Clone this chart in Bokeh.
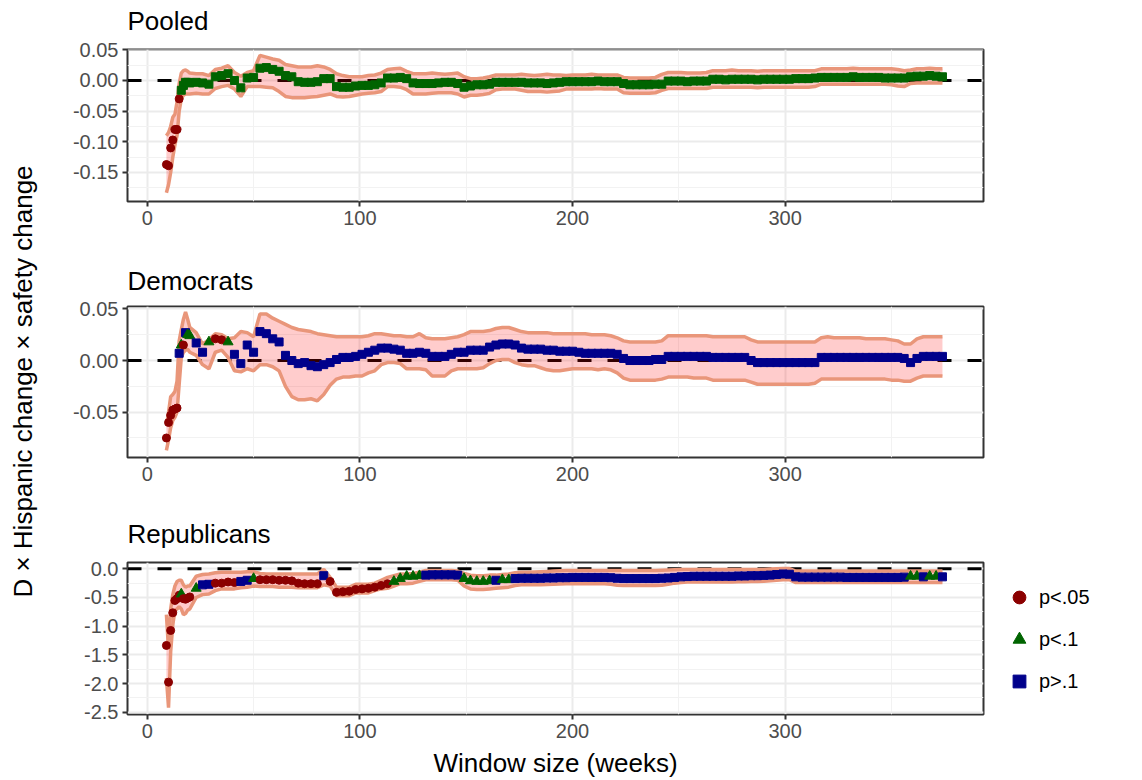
import math
from bokeh.plotting import figure
from bokeh.models import (Range1d, FixedTicker, PrintfTickFormatter, Span,
                          Legend, LegendItem, ColumnDataSource)
from bokeh.layouts import column, row
from bokeh.core.properties import value
from bokeh.embed import file_html
from bokeh.resources import INLINE

# Window sizes (weeks) at which the rolling estimates are reported
weeks = list(range(9, 21)) + list(range(23, 375, 3))

# ---- Pooled -----------------------------------------------------------
pooled_est = [
    -0.137, -0.139, -0.110, -0.097, -0.080, -0.080, -0.030, -0.016, -0.008, -0.003, -0.003, -0.004,
    -0.003, -0.004, -0.006, 0.006, 0.008, 0.011, 0.000, -0.012, 0.004, 0.005,
    0.020, 0.021, 0.018, 0.015, 0.008, 0.006, -0.002, -0.003, -0.003, -0.002,
    0.003, 0.003, -0.010, -0.011, -0.011, -0.009, -0.008, -0.008, -0.007, -0.004,
    0.004, 0.004, 0.005, 0.003, -0.004, -0.005, -0.005, -0.005, -0.004, -0.003,
    -0.003, -0.005, -0.011, -0.009, -0.007, -0.007, -0.006, -0.003, -0.003, -0.003,
    -0.003, -0.003, -0.004, -0.004, -0.004, -0.005, -0.004, -0.003, -0.002, -0.002,
    -0.002, -0.002, -0.002, -0.001, -0.002, -0.002, -0.002, -0.005, -0.007, -0.007,
    -0.007, -0.007, -0.006, -0.006, -0.001, -0.001, -0.001, -0.002, -0.001, -0.001,
    -0.001, 0.002, 0.002, 0.001, 0.002, 0.002, 0.002, 0.002, 0.001, 0.002,
    0.002, 0.002, 0.002, 0.002, 0.003, 0.003, 0.003, 0.004, 0.005, 0.005,
    0.005, 0.005, 0.005, 0.006, 0.005, 0.005, 0.005, 0.005, 0.004, 0.004,
    0.004, 0.004, 0.006, 0.007, 0.007, 0.008, 0.007, 0.006,
]
pooled_hi = [
    -0.090, -0.085, -0.075, -0.060, -0.055, -0.035, -0.005, 0.012, 0.016, 0.017, 0.015, 0.012,
    0.011, 0.011, 0.008, 0.018, 0.020, 0.024, 0.013, 0.007, 0.013, 0.016,
    0.041, 0.038, 0.035, 0.033, 0.026, 0.024, 0.022, 0.022, 0.022, 0.024,
    0.022, 0.018, 0.011, 0.008, 0.006, 0.006, 0.006, 0.008, 0.009, 0.012,
    0.018, 0.019, 0.020, 0.015, 0.011, 0.011, 0.011, 0.012, 0.011, 0.010,
    0.011, 0.012, 0.006, 0.003, 0.003, 0.004, 0.006, 0.009, 0.009, 0.009,
    0.009, 0.010, 0.009, 0.008, 0.009, 0.010, 0.009, 0.009, 0.008, 0.009,
    0.009, 0.009, 0.010, 0.009, 0.009, 0.009, 0.009, 0.005, 0.004, 0.004,
    0.004, 0.004, 0.005, 0.010, 0.013, 0.013, 0.013, 0.012, 0.012, 0.012,
    0.013, 0.016, 0.016, 0.016, 0.017, 0.016, 0.016, 0.016, 0.015, 0.016,
    0.016, 0.016, 0.016, 0.016, 0.016, 0.016, 0.016, 0.016, 0.019, 0.019,
    0.019, 0.019, 0.019, 0.020, 0.019, 0.019, 0.019, 0.019, 0.019, 0.019,
    0.018, 0.016, 0.017, 0.019, 0.019, 0.020, 0.019, 0.019,
]
pooled_lo = [
    -0.183, -0.170, -0.150, -0.125, -0.105, -0.090, -0.050, -0.030, -0.024, -0.022, -0.022, -0.022,
    -0.021, -0.022, -0.022, -0.013, -0.010, -0.008, -0.014, -0.026, -0.010, -0.010,
    -0.010, -0.011, -0.012, -0.018, -0.026, -0.028, -0.028, -0.028, -0.027, -0.026,
    -0.024, -0.022, -0.026, -0.027, -0.026, -0.024, -0.022, -0.021, -0.020, -0.018,
    -0.010, -0.010, -0.011, -0.015, -0.022, -0.022, -0.022, -0.021, -0.020, -0.020,
    -0.020, -0.022, -0.027, -0.024, -0.024, -0.023, -0.021, -0.015, -0.014, -0.014,
    -0.014, -0.016, -0.018, -0.018, -0.018, -0.019, -0.018, -0.017, -0.014, -0.014,
    -0.014, -0.014, -0.014, -0.013, -0.014, -0.014, -0.014, -0.020, -0.021, -0.021,
    -0.021, -0.021, -0.020, -0.016, -0.013, -0.013, -0.013, -0.013, -0.013, -0.013,
    -0.013, -0.011, -0.011, -0.011, -0.011, -0.011, -0.011, -0.011, -0.012, -0.011,
    -0.011, -0.011, -0.011, -0.011, -0.011, -0.011, -0.011, -0.010, -0.006, -0.006,
    -0.006, -0.006, -0.006, -0.006, -0.006, -0.006, -0.006, -0.006, -0.006, -0.007,
    -0.009, -0.010, -0.005, -0.004, -0.004, -0.004, -0.004, -0.004,
]
pooled_sig = ("sssssssnnnnn" + "nnnnnnnnnn" * 11 + "nnnnnnnn")

# ---- Democrats --------------------------------------------------------
dem_est = [
    -0.075, -0.060, -0.053, -0.048, -0.047, -0.046, 0.007, 0.015, 0.015, 0.027, 0.025, 0.024,
    0.017, 0.008, 0.018, 0.021, 0.020, 0.018, 0.006, -0.003, 0.015, 0.008,
    0.028, 0.026, 0.021, 0.018, 0.005, 0.000, -0.003, -0.002, -0.005, -0.006,
    -0.004, -0.002, 0.001, 0.003, 0.003, 0.004, 0.006, 0.008, 0.010, 0.012,
    0.012, 0.011, 0.010, 0.007, 0.007, 0.008, 0.007, 0.004, 0.004, 0.004,
    0.006, 0.008, 0.008, 0.010, 0.010, 0.010, 0.013, 0.015, 0.016, 0.016,
    0.015, 0.012, 0.011, 0.011, 0.011, 0.010, 0.010, 0.009, 0.009, 0.009,
    0.008, 0.007, 0.007, 0.007, 0.007, 0.007, 0.006, 0.002, 0.000, 0.000,
    0.000, 0.000, 0.001, 0.001, 0.004, 0.004, 0.004, 0.004, 0.004, 0.004,
    0.004, 0.003, 0.003, 0.003, 0.003, 0.003, 0.003, 0.000, -0.002, -0.002,
    -0.002, -0.002, -0.002, -0.002, -0.002, -0.002, -0.002, -0.002, 0.003, 0.003,
    0.003, 0.003, 0.003, 0.003, 0.003, 0.003, 0.003, 0.003, 0.003, 0.003,
    0.003, 0.002, -0.002, 0.002, 0.004, 0.004, 0.004, 0.004,
]
dem_hi = [
    -0.063, -0.050, -0.035, -0.033, -0.030, -0.020, 0.019, 0.030, 0.040, 0.047, 0.040, 0.032,
    0.027, 0.016, 0.020, 0.026, 0.025, 0.021, 0.022, 0.028, 0.027, 0.023,
    0.045, 0.045, 0.041, 0.038, 0.035, 0.032, 0.030, 0.029, 0.028, 0.026,
    0.025, 0.024, 0.023, 0.023, 0.023, 0.023, 0.023, 0.024, 0.026, 0.026,
    0.025, 0.024, 0.024, 0.023, 0.023, 0.026, 0.022, 0.021, 0.021, 0.021,
    0.022, 0.023, 0.025, 0.028, 0.028, 0.028, 0.029, 0.031, 0.032, 0.032,
    0.030, 0.028, 0.027, 0.027, 0.027, 0.027, 0.026, 0.026, 0.026, 0.026,
    0.026, 0.026, 0.025, 0.025, 0.025, 0.024, 0.022, 0.019, 0.018, 0.018,
    0.018, 0.018, 0.018, 0.019, 0.024, 0.024, 0.024, 0.024, 0.024, 0.024,
    0.024, 0.023, 0.023, 0.023, 0.023, 0.023, 0.023, 0.020, 0.018, 0.018,
    0.018, 0.018, 0.018, 0.018, 0.018, 0.018, 0.018, 0.018, 0.022, 0.023,
    0.022, 0.022, 0.022, 0.022, 0.022, 0.021, 0.021, 0.021, 0.021, 0.020,
    0.019, 0.016, 0.016, 0.021, 0.023, 0.023, 0.023, 0.023,
]
dem_lo = [
    -0.087, -0.077, -0.065, -0.058, -0.055, -0.050, -0.023, 0.003, 0.008, 0.010, 0.011, 0.008,
    0.005, -0.004, -0.008, 0.008, 0.010, 0.003, -0.010, -0.011, -0.008, -0.010,
    -0.004, -0.004, -0.006, -0.010, -0.025, -0.035, -0.038, -0.038, -0.037, -0.039,
    -0.033, -0.024, -0.018, -0.016, -0.016, -0.015, -0.015, -0.012, -0.010, -0.004,
    -0.002, -0.002, -0.003, -0.008, -0.008, -0.008, -0.009, -0.015, -0.015, -0.015,
    -0.010, -0.008, -0.008, -0.008, -0.008, -0.007, -0.003, 0.000, 0.001, 0.001,
    -0.002, -0.004, -0.005, -0.005, -0.007, -0.009, -0.010, -0.010, -0.009, -0.008,
    -0.008, -0.008, -0.008, -0.009, -0.008, -0.009, -0.012, -0.017, -0.019, -0.019,
    -0.019, -0.019, -0.019, -0.018, -0.016, -0.016, -0.016, -0.016, -0.017, -0.017,
    -0.017, -0.019, -0.019, -0.019, -0.019, -0.019, -0.019, -0.021, -0.023, -0.023,
    -0.023, -0.023, -0.023, -0.023, -0.023, -0.023, -0.023, -0.022, -0.018, -0.018,
    -0.018, -0.018, -0.018, -0.018, -0.018, -0.018, -0.018, -0.018, -0.018, -0.019,
    -0.019, -0.020, -0.020, -0.017, -0.015, -0.015, -0.015, -0.015,
]
dem_sig = ("ssssssnmsnmm" + "nnmssmnnnn" + "nnnnnnnnnn" * 10 + "nnnnnnnn")

# ---- Republicans ------------------------------------------------------
rep_est = [
    -1.336, -1.976, -1.075, -0.767, -0.552, -0.520, -0.460, -0.440, -0.520, -0.530, -0.510, -0.490,
    -0.340, -0.280, -0.270, -0.250, -0.250, -0.230, -0.240, -0.220, -0.200, -0.170,
    -0.190, -0.190, -0.190, -0.200, -0.200, -0.210, -0.250, -0.260, -0.260, -0.260,
    -0.120, -0.220, -0.410, -0.400, -0.390, -0.360, -0.350, -0.340, -0.320, -0.290,
    -0.260, -0.220, -0.170, -0.130, -0.130, -0.120, -0.110, -0.105, -0.105, -0.105,
    -0.105, -0.110, -0.170, -0.210, -0.220, -0.220, -0.210, -0.200, -0.190, -0.190,
    -0.170, -0.165, -0.165, -0.165, -0.165, -0.160, -0.160, -0.155, -0.155, -0.150,
    -0.150, -0.150, -0.150, -0.150, -0.150, -0.155, -0.165, -0.170, -0.170, -0.170,
    -0.170, -0.170, -0.170, -0.165, -0.160, -0.150, -0.140, -0.135, -0.130, -0.130,
    -0.130, -0.130, -0.130, -0.130, -0.130, -0.125, -0.125, -0.120, -0.120, -0.115,
    -0.110, -0.100, -0.090, -0.095, -0.140, -0.145, -0.145, -0.145, -0.145, -0.145,
    -0.145, -0.145, -0.150, -0.150, -0.150, -0.150, -0.150, -0.150, -0.150, -0.150,
    -0.150, -0.145, -0.130, -0.130, -0.140, -0.130, -0.130, -0.140,
]
rep_hi = [
    -0.800, -1.400, -0.700, -0.450, -0.300, -0.220, -0.200, -0.200, -0.280, -0.320, -0.300, -0.300,
    -0.130, -0.100, -0.090, -0.070, -0.060, -0.060, -0.060, -0.060, -0.050, -0.050,
    -0.080, -0.090, -0.090, -0.090, -0.090, -0.090, -0.090, -0.090, -0.090, -0.090,
    -0.010, -0.150, -0.320, -0.320, -0.320, -0.270, -0.270, -0.270, -0.250, -0.200,
    -0.150, -0.120, -0.090, -0.090, -0.080, -0.060, -0.030, -0.030, -0.030, -0.030,
    -0.030, -0.040, -0.080, -0.110, -0.120, -0.120, -0.110, -0.110, -0.100, -0.090,
    -0.070, -0.060, -0.060, -0.055, -0.050, -0.045, -0.040, -0.035, -0.030, -0.030,
    -0.030, -0.030, -0.030, -0.030, -0.030, -0.030, -0.030, -0.030, -0.030, -0.030,
    -0.030, -0.030, -0.030, -0.025, -0.020, -0.015, -0.010, -0.010, -0.010, -0.010,
    -0.010, -0.010, -0.010, -0.010, -0.010, -0.010, -0.010, -0.010, -0.010, -0.010,
    -0.005, 0.000, 0.005, 0.005, -0.040, -0.040, -0.040, -0.040, -0.040, -0.040,
    -0.040, -0.040, -0.040, -0.040, -0.040, -0.040, -0.040, -0.040, -0.040, -0.040,
    -0.040, -0.040, -0.040, -0.040, -0.040, -0.040, -0.040, -0.040,
]
rep_lo = [
    -1.900, -2.420, -1.450, -0.980, -0.720, -0.700, -0.660, -0.700, -0.800, -0.780, -0.720, -0.700,
    -0.500, -0.450, -0.440, -0.380, -0.350, -0.350, -0.350, -0.330, -0.320, -0.300,
    -0.310, -0.310, -0.310, -0.320, -0.320, -0.320, -0.330, -0.330, -0.330, -0.330,
    -0.280, -0.300, -0.470, -0.470, -0.470, -0.420, -0.420, -0.420, -0.380, -0.350,
    -0.340, -0.300, -0.260, -0.260, -0.250, -0.220, -0.190, -0.190, -0.190, -0.190,
    -0.190, -0.200, -0.300, -0.350, -0.360, -0.360, -0.350, -0.340, -0.330, -0.320,
    -0.290, -0.280, -0.280, -0.280, -0.280, -0.275, -0.270, -0.265, -0.260, -0.260,
    -0.260, -0.260, -0.260, -0.260, -0.260, -0.270, -0.285, -0.290, -0.290, -0.290,
    -0.290, -0.290, -0.290, -0.285, -0.270, -0.250, -0.240, -0.230, -0.230, -0.230,
    -0.230, -0.230, -0.230, -0.230, -0.230, -0.225, -0.225, -0.220, -0.220, -0.215,
    -0.210, -0.200, -0.190, -0.190, -0.240, -0.240, -0.240, -0.240, -0.240, -0.240,
    -0.240, -0.240, -0.240, -0.240, -0.240, -0.240, -0.240, -0.240, -0.240, -0.240,
    -0.240, -0.240, -0.240, -0.240, -0.240, -0.240, -0.240, -0.240,
]
rep_sig = ("sssssssmssss" + "mnnssssnnm" + "ssssssssss" + "nsssssssss"
           + "smmmmmnnnn" + "nnmmmmmnmm" + "nnnnnnnnnn" * 6 + "nnmmnmmn")

for arr in (pooled_est, pooled_hi, pooled_lo, pooled_sig, dem_est, dem_hi, dem_lo,
            dem_sig, rep_est, rep_hi, rep_lo, rep_sig):
    assert len(arr) == len(weeks), len(arr)

panel_titles = ["Pooled", "Democrats", "Republicans"]
sig_labels = ["p<.05", "p<.1", "p>.1"]
y_title = "D \u00d7 Hispanic change \u00d7 safety change"
x_title = "Window size (weeks)"

FONT = "Liberation Sans"
RED, GREEN, BLUE = "#8B0000", "#006400", "#00008B"
STYLE = {"s": ("circle", RED, 8), "m": ("triangle", GREEN, 10), "n": ("square", BLUE, 8)}
POOLED_STYLE = {"s": ("circle", RED, 8), "n": ("square", GREEN, 8)}

FRAME_W = 856
LABEL_W = 40            # strip holding the shared y title
LEFT = 127 - LABEL_W    # panel border left of each plotting frame
RIGHT = 12
PANEL_W = LEFT + FRAME_W + RIGHT
LEGEND_W = 1142 - LABEL_W - PANEL_W


def blank(w, h, left=0, right=0):
    f = figure(frame_width=w, frame_height=h, x_range=Range1d(0, w),
               y_range=Range1d(0, h), min_border=0,
               min_border_left=left, min_border_right=right,
               output_backend="svg", toolbar_location=None,
               border_fill_color="white", background_fill_color="white")
    f.axis.visible = False
    f.grid.visible = False
    f.outline_line_color = None
    return f


def title_strip(text, yc):
    # same horizontal borders as the panels, so the text starts at the frame edge
    t = blank(FRAME_W, 40, left=LEFT, right=RIGHT)
    t.text(x=[0], y=[yc], text=[text], text_align="left", text_baseline="middle",
           text_font=value(FONT), text_font_size="26px", text_color="black")
    return t


def make_panel(est, lo, hi, sig, style, y_range, y_ticks, y_minor, fmt,
               frame_h, border_bottom):
    p = figure(frame_width=FRAME_W, frame_height=frame_h,
               x_range=Range1d(-9.3, 393.3), y_range=Range1d(*y_range),
               output_backend="svg", toolbar_location=None,
               min_border_left=LEFT, min_border_right=RIGHT,
               min_border_top=9, min_border_bottom=border_bottom,
               background_fill_color="white", border_fill_color="white")

    p.outline_line_color = "#333333"
    p.outline_line_width = 2

    xt = FixedTicker(ticks=[0, 100, 200, 300], minor_ticks=[50, 150, 250, 350])
    yt = FixedTicker(ticks=y_ticks, minor_ticks=y_minor)
    p.xaxis.ticker = xt
    p.xgrid.ticker = xt
    p.yaxis.ticker = yt
    p.ygrid.ticker = yt
    p.yaxis.formatter = PrintfTickFormatter(format=fmt)

    for g in (p.xgrid, p.ygrid):
        g.grid_line_color = "#EBEBEB"
        g.grid_line_width = 2
        g.minor_grid_line_color = "#F2F2F2"
        g.minor_grid_line_width = 1

    for ax in (p.xaxis, p.yaxis):
        ax.axis_line_color = None
        ax.major_tick_line_color = "#333333"
        ax.major_tick_line_width = 2
        ax.major_tick_out = 5
        ax.major_tick_in = 0
        ax.minor_tick_line_color = None
        ax.major_label_text_font = FONT
        ax.major_label_text_font_size = "20px"
        ax.major_label_text_color = "#4D4D4D"
        ax.major_label_standoff = 4
        ax.axis_label_text_font = FONT
        ax.axis_label_text_font_size = "26px"
        ax.axis_label_text_font_style = "normal"
        ax.axis_label_text_color = "black"

    # reference line at zero, beneath the confidence band
    p.add_layout(Span(location=0, dimension="width", line_color="black",
                      line_width=3, line_dash="14 16", level="underlay"))

    src = ColumnDataSource(dict(
        w=weeks, est=est, lo=lo, hi=hi,
        marker=[style[c][0] for c in sig],
        color=[style[c][1] for c in sig],
        size=[style[c][2] for c in sig],
    ))
    p.varea(x="w", y1="lo", y2="hi", source=src, fill_color="red", fill_alpha=0.2)
    p.line(x="w", y="lo", source=src, line_color="#E9967A", line_width=3.5)
    p.line(x="w", y="hi", source=src, line_color="#E9967A", line_width=3.5)
    p.scatter(x="w", y="est", source=src, marker="marker", color="color", size="size")
    return p


p1 = make_panel(pooled_est, pooled_lo, pooled_hi, pooled_sig, POOLED_STYLE,
                (-0.1973, 0.0505), [-0.15, -0.10, -0.05, 0.0, 0.05],
                [-0.175, -0.125, -0.075, -0.025, 0.025], "%.2f", 152, 56)
p2 = make_panel(dem_est, dem_lo, dem_hi, dem_sig, STYLE,
                (-0.0939, 0.0523), [-0.05, 0.0, 0.05], [-0.075, -0.025, 0.025],
                "%.2f", 151, 56)
p3 = make_panel(rep_est, rep_lo, rep_hi, rep_sig, STYLE,
                (-2.540, 0.110), [-2.5, -2.0, -1.5, -1.0, -0.5, 0.0],
                [-2.25, -1.75, -1.25, -0.75, -0.25], "%.1f", 152, 66)

p3.xaxis.axis_label = x_title
p3.xaxis.axis_label_standoff = 7

t1 = title_strip(panel_titles[0], 20)
t2 = title_strip(panel_titles[1], 17)
t3 = title_strip(panel_titles[2], 20)

# shared y-axis title in its own strip spanning all three panels
ylab = blank(LABEL_W, 780)
ylab.text(x=[22], y=[399], text=[y_title], angle=math.pi / 2,
          text_align="center", text_baseline="middle",
          text_font=value(FONT), text_font_size="26px", text_color="black")

# legend for the significance classes, beside the bottom panel; the key
# renderers hold one point outside the visible range so only the keys show
leg_fig = blank(LEGEND_W, 780)
keys = []
for lab, mk, col in zip(sig_labels, ["circle", "triangle", "square"], [RED, GREEN, BLUE]):
    r = leg_fig.scatter(x=[-1000], y=[-1000], marker=mk, color=col, size=12)
    keys.append(LegendItem(label=lab, renderers=[r]))
legend = Legend(items=keys, location=(8, 83), orientation="vertical",
                label_text_font=FONT, label_text_font_size="20px",
                label_text_color="black", glyph_width=32, glyph_height=32,
                label_height=20, spacing=10, label_standoff=4,
                margin=0, padding=5, border_line_color=None,
                background_fill_alpha=0)
leg_fig.add_layout(legend)

layout = row(ylab, column(t1, p1, t2, p2, t3, p3, spacing=0), leg_fig, spacing=0)
open("out.html", "w").write(file_html(layout, INLINE))
